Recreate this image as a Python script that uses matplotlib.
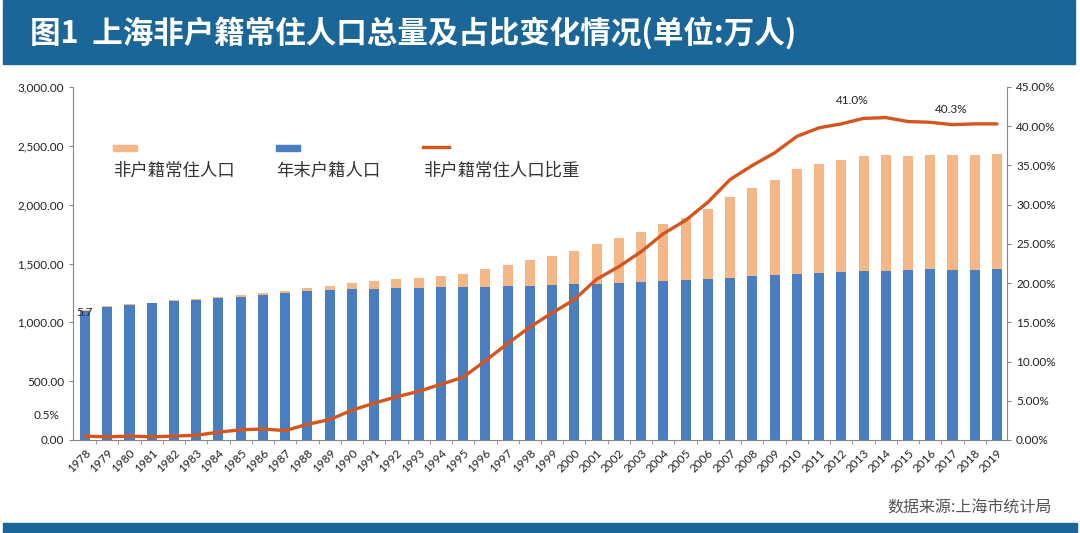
import matplotlib
matplotlib.use("Agg")
import matplotlib.pyplot as plt
import numpy as np
from matplotlib.patches import Rectangle
from matplotlib.lines import Line2D
from matplotlib.ticker import FuncFormatter, MultipleLocator

plt.rcParams["font.family"] = ["Noto Sans CJK SC", "DejaVu Sans"]

# data, 万人 / %
years = list(range(1978, 2020))
hukou = [1098.3, 1132.1, 1146.5, 1162.8, 1180.5, 1194.0, 1204.8, 1216.7, 1232.3, 1249.5,
         1262.4, 1276.5, 1283.4, 1287.2, 1289.4, 1294.7, 1298.8, 1301.4, 1304.4, 1305.5,
         1306.6, 1313.1, 1321.6, 1327.1, 1334.2, 1341.8, 1352.4, 1360.3, 1368.1, 1378.9,
         1391.0, 1400.7, 1412.3, 1419.4, 1426.9, 1432.3, 1438.7, 1443.0, 1450.0, 1445.7,
         1447.6, 1450.4]
non_hukou = [5.7, 4.9, 5.5, 5.2, 5.5, 7.0, 12.2, 16.3, 17.7, 15.5,
             25.6, 34.5, 50.7, 62.8, 75.6, 86.3, 99.2, 113.6, 146.6, 183.5,
             220.4, 253.9, 287.4, 341.2, 378.7, 424.1, 482.6, 530.0, 596.0, 684.7,
             749.6, 809.6, 890.3, 928.1, 953.5, 982.8, 987.0, 972.3, 969.7, 972.7,
             976.2, 977.5]
share = [0.5, 0.4, 0.5, 0.4, 0.5, 0.6, 1.0, 1.3, 1.4, 1.2,
         2.0, 2.6, 3.8, 4.7, 5.5, 6.2, 7.1, 8.0, 10.1, 12.3,
         14.4, 16.2, 17.9, 20.5, 22.1, 24.0, 26.3, 28.0, 30.3, 33.2,
         35.0, 36.6, 38.7, 39.8, 40.3, 41.0, 41.1, 40.6, 40.5, 40.2,
         40.3, 40.3]
labels = ["非户籍常住人口", "年末户籍人口", "非户籍常住人口比重"]

BLUE = "#4a7ec3"
ORANGE = "#f5b788"
RED = "#d4561c"
BAND = "#1b6698"
NUM = ["Lato", "DejaVu Sans"]

fig = plt.figure(figsize=(10.8, 5.33), dpi=100)
W, H = 1080, 533

# header / footer bands
fig.patches.append(Rectangle((3 / W, 1 - 64 / H), 1072 / W, 64 / H,
                             transform=fig.transFigure, color=BAND, zorder=0))
fig.patches.append(Rectangle((3 / W, 0), 1074 / W, 10 / H,
                             transform=fig.transFigure, color=BAND, zorder=0))
fig.text(30 / W, 1 - 33 / H, "图1  上海非户籍常住人口总量及占比变化情况(单位:万人)",
         color="white", fontsize=22, fontweight="bold", va="center", ha="left")
fig.text(1052 / W, 1 - 508 / H, "数据来源:上海市统计局", color="#555555",
         fontsize=11.5, ha="right", va="center")

ax = fig.add_axes([73 / W, 1 - 440 / H, 934 / W, 353 / H])
x = np.arange(len(years))
ax.bar(x, hukou, width=0.45, color=BLUE, zorder=2)
ax.bar(x, non_hukou, width=0.45, bottom=hukou, color=ORANGE, zorder=2)
ax.set_xlim(-0.54, len(years) - 0.55)
ax.set_ylim(0, 3000)
ax.yaxis.set_major_locator(MultipleLocator(500))
ax.yaxis.set_major_formatter(FuncFormatter(lambda v, p: f"{v:,.2f}"))
ax.set_xticks(x)
ax.set_xticklabels([str(y) for y in years], rotation=45, ha="right",
                   rotation_mode="anchor", fontsize=8.5, family=NUM, color="#222222")
ax.tick_params(axis="x", length=0, pad=5)
ax.set_xticks(x[:-1] + 0.5, minor=True)
ax.tick_params(axis="x", which="minor", length=3, color="#888888")
ax.tick_params(axis="y", length=3, color="#888888", labelsize=8.5, labelcolor="#222222")
for t in ax.get_yticklabels():
    t.set_family(NUM)
for s in ["top", "right"]:
    ax.spines[s].set_visible(False)
for s in ["left", "bottom"]:
    ax.spines[s].set_color("#888888")

ax2 = ax.twinx()
ax2.plot(x, share, color=RED, lw=2.4, zorder=3, solid_capstyle="round")
ax2.set_ylim(0, 45)
ax2.yaxis.set_major_locator(MultipleLocator(5))
ax2.yaxis.set_major_formatter(FuncFormatter(lambda v, p: f"{v:.2f}%"))
ax2.tick_params(axis="y", length=3, color="#888888", labelsize=8.5, labelcolor="#222222")
for t in ax2.get_yticklabels():
    t.set_family(NUM)
for s in ["top", "left", "bottom"]:
    ax2.spines[s].set_visible(False)
ax2.spines["right"].set_color("#888888")

# annotations
ax.annotate(f"{non_hukou[0]:.1f}", (x[0], hukou[0] + non_hukou[0]), xytext=(-6, -2),
            textcoords="offset points", fontsize=8.5, family=NUM, color="#222222", va="center")
ax2.annotate(f"{share[0]:.1f}%", (x[0], share[0]), xytext=(-37, 15),
             textcoords="offset points", fontsize=8.5, family=NUM, color="#222222", va="center")
i13 = years.index(2013)
ax2.annotate("41.0%", (x[i13], share[i13]), xytext=(-8, 9), textcoords="offset points",
             fontsize=8.5, family=NUM, color="#222222", va="bottom", ha="center")
i17 = years.index(2017)
ax2.annotate("40.3%", (x[i17], share[i17]), xytext=(-1, 7), textcoords="offset points",
             fontsize=8.5, family=NUM, color="#222222", va="bottom", ha="center")

# legend, key above text
for lx, kind, col, lab in [(113, "bar", ORANGE, labels[0]), (276, "bar", BLUE, labels[1]),
                           (423, "line", RED, labels[2])]:
    if kind == "bar":
        fig.patches.append(Rectangle((lx / W, 1 - 151 / H), 24 / W, 6 / H,
                                     transform=fig.transFigure, color=col, zorder=5))
    else:
        fig.lines.append(Line2D([lx / W, (lx + 26) / W], [1 - 147 / H, 1 - 147 / H],
                                transform=fig.transFigure, color=col, lw=2.4, zorder=5))
    fig.text(lx / W, 1 - 171 / H, lab, fontsize=12.5, color="#333333",
             ha="left", va="center")

fig.savefig("out.png", dpi=100)
